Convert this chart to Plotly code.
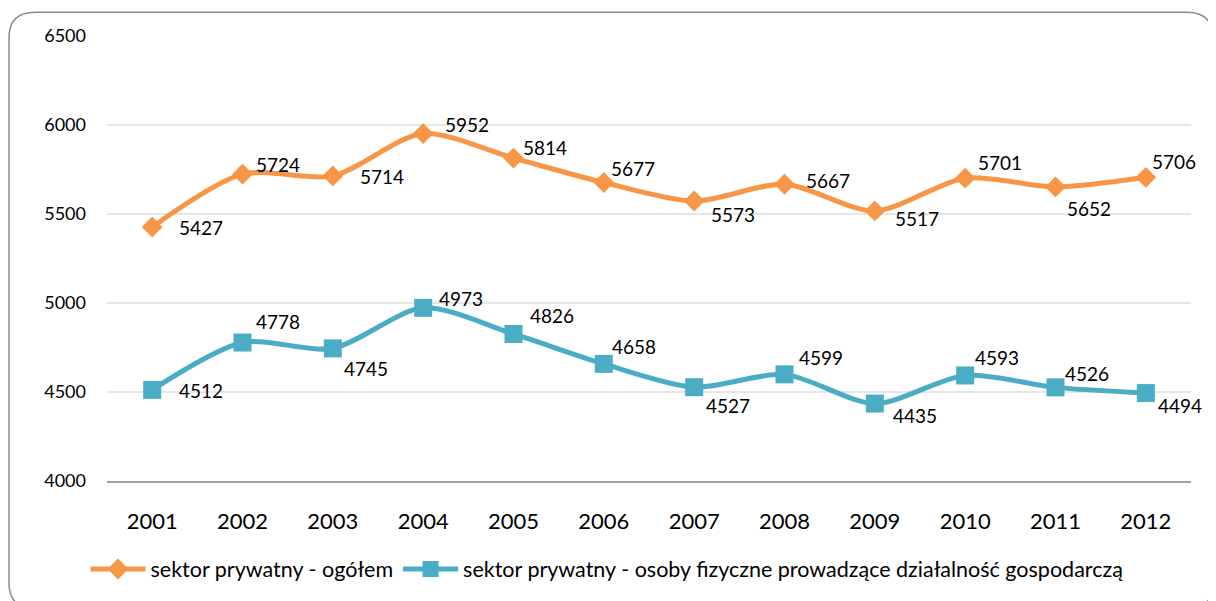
import plotly.graph_objects as go

years = ["2001", "2002", "2003", "2004", "2005", "2006", "2007", "2008", "2009", "2010", "2011", "2012"]
ogolem = [5427, 5724, 5714, 5952, 5814, 5677, 5573, 5667, 5517, 5701, 5652, 5706]
osoby_fizyczne = [4512, 4778, 4745, 4973, 4826, 4658, 4527, 4599, 4435, 4593, 4526, 4494]
name_ogolem = "sektor prywatny - ogółem"
name_osoby = "sektor prywatny - osoby fizyczne prowadzące działalność gospodarczą"

# label offsets in px (right, down) relative to each marker
lbl_off_ogolem = [(25, 1), (11, -10), (25, 1), (20, -9), (7, -11), (5, -14),
                  (15, 13), (19, -4), (18, 8), (11, -16), (9, 22), (4, -16)]
lbl_off_osoby = [(25, 1), (11, -21), (9, 20), (14, -9), (14, -18), (6, -17),
                 (10, 18), (12, -17), (16, 12), (8, -18), (7, -14), (10, 12)]

ORANGE = "#F79646"
BLUE = "#4BACC6"
FONT = "Lato"

# the page body has an 8px margin; work in figure coordinates (viewport - 8)
OFF = 8
W, H = 1216 - OFF, 601 - OFF
ML = 107 - OFF
MT = 36 - OFF
PLOT_R = 1191 - OFF
PLOT_B = 486 - OFF
MR = W - PLOT_R
MB = H - PLOT_B
PW, PH = W - ML - MR, H - MT - MB


def P(vx, vy):
    fx, fy = vx - OFF, vy - OFF
    return f"{(fx - ML) / PW:.5f} {(PLOT_B - fy) / PH:.5f}"


fig = go.Figure()
fig.add_trace(go.Scatter(
    x=years, y=ogolem, name=name_ogolem, mode="lines+markers",
    line=dict(color=ORANGE, width=5, shape="spline", smoothing=0.8),
    marker=dict(symbol="diamond", size=16, color=ORANGE),
))
fig.add_trace(go.Scatter(
    x=years, y=osoby_fizyczne, name=name_osoby, mode="lines+markers",
    line=dict(color=BLUE, width=5, shape="spline", smoothing=0.8),
    marker=dict(symbol="square", size=18, color=BLUE),
))

for vals, offs in ((ogolem, lbl_off_ogolem), (osoby_fizyczne, lbl_off_osoby)):
    for i, (v, (dx, dy)) in enumerate(zip(vals, offs)):
        fig.add_annotation(x=i, y=v, xref="x", yref="y", text=str(v), showarrow=False,
                           xanchor="left", yanchor="middle", xshift=dx, yshift=-dy,
                           font=dict(family=FONT, size=19, color="#000000"))

# rounded chart border
x0, y0, x1, y1, r = 9, 12, 1213, 615, 26
path = (f"M {P(x0 + r, y0)} L {P(x1 - r, y0)} Q {P(x1, y0)} {P(x1, y0 + r)} "
        f"L {P(x1, y1 - r)} Q {P(x1, y1)} {P(x1 - r, y1)} L {P(x0 + r, y1)} "
        f"Q {P(x0, y1)} {P(x0, y1 - r)} L {P(x0, y0 + r)} Q {P(x0, y0)} {P(x0 + r, y0)} Z")
fig.add_shape(type="path", xref="paper", yref="paper", path=path,
              line=dict(color="#8C8C8C", width=1.5), layer="above")

fig.update_layout(
    width=W, height=H,
    margin=dict(l=ML, r=MR, t=MT, b=MB),
    paper_bgcolor="white", plot_bgcolor="white",
    font=dict(family=FONT, color="#000000"),
    showlegend=True,
    legend=dict(orientation="h", x=(607 - OFF - ML) / PW, xanchor="center",
                y=(PLOT_B - (575 - OFF)) / PH, yanchor="middle",
                font=dict(family=FONT, size=21.5, color="#000000"), itemwidth=55),
    xaxis=dict(type="category", range=[-0.5, 11.5], showgrid=False, showline=True,
               linecolor="#A0A0A0", linewidth=1.5, ticks="", ticklabelstandoff=20,
               tickfont=dict(family=FONT, size=22, color="#000000"), fixedrange=True),
    yaxis=dict(range=[4000, 6500], dtick=500, showgrid=True, gridcolor="#E6E6E6", gridwidth=1.5,
               zeroline=False, showline=False, ticks="", ticklabelstandoff=20,
               tickfont=dict(family=FONT, size=18, color="#000000"), fixedrange=True),
)

fig.write_html("out.html")
